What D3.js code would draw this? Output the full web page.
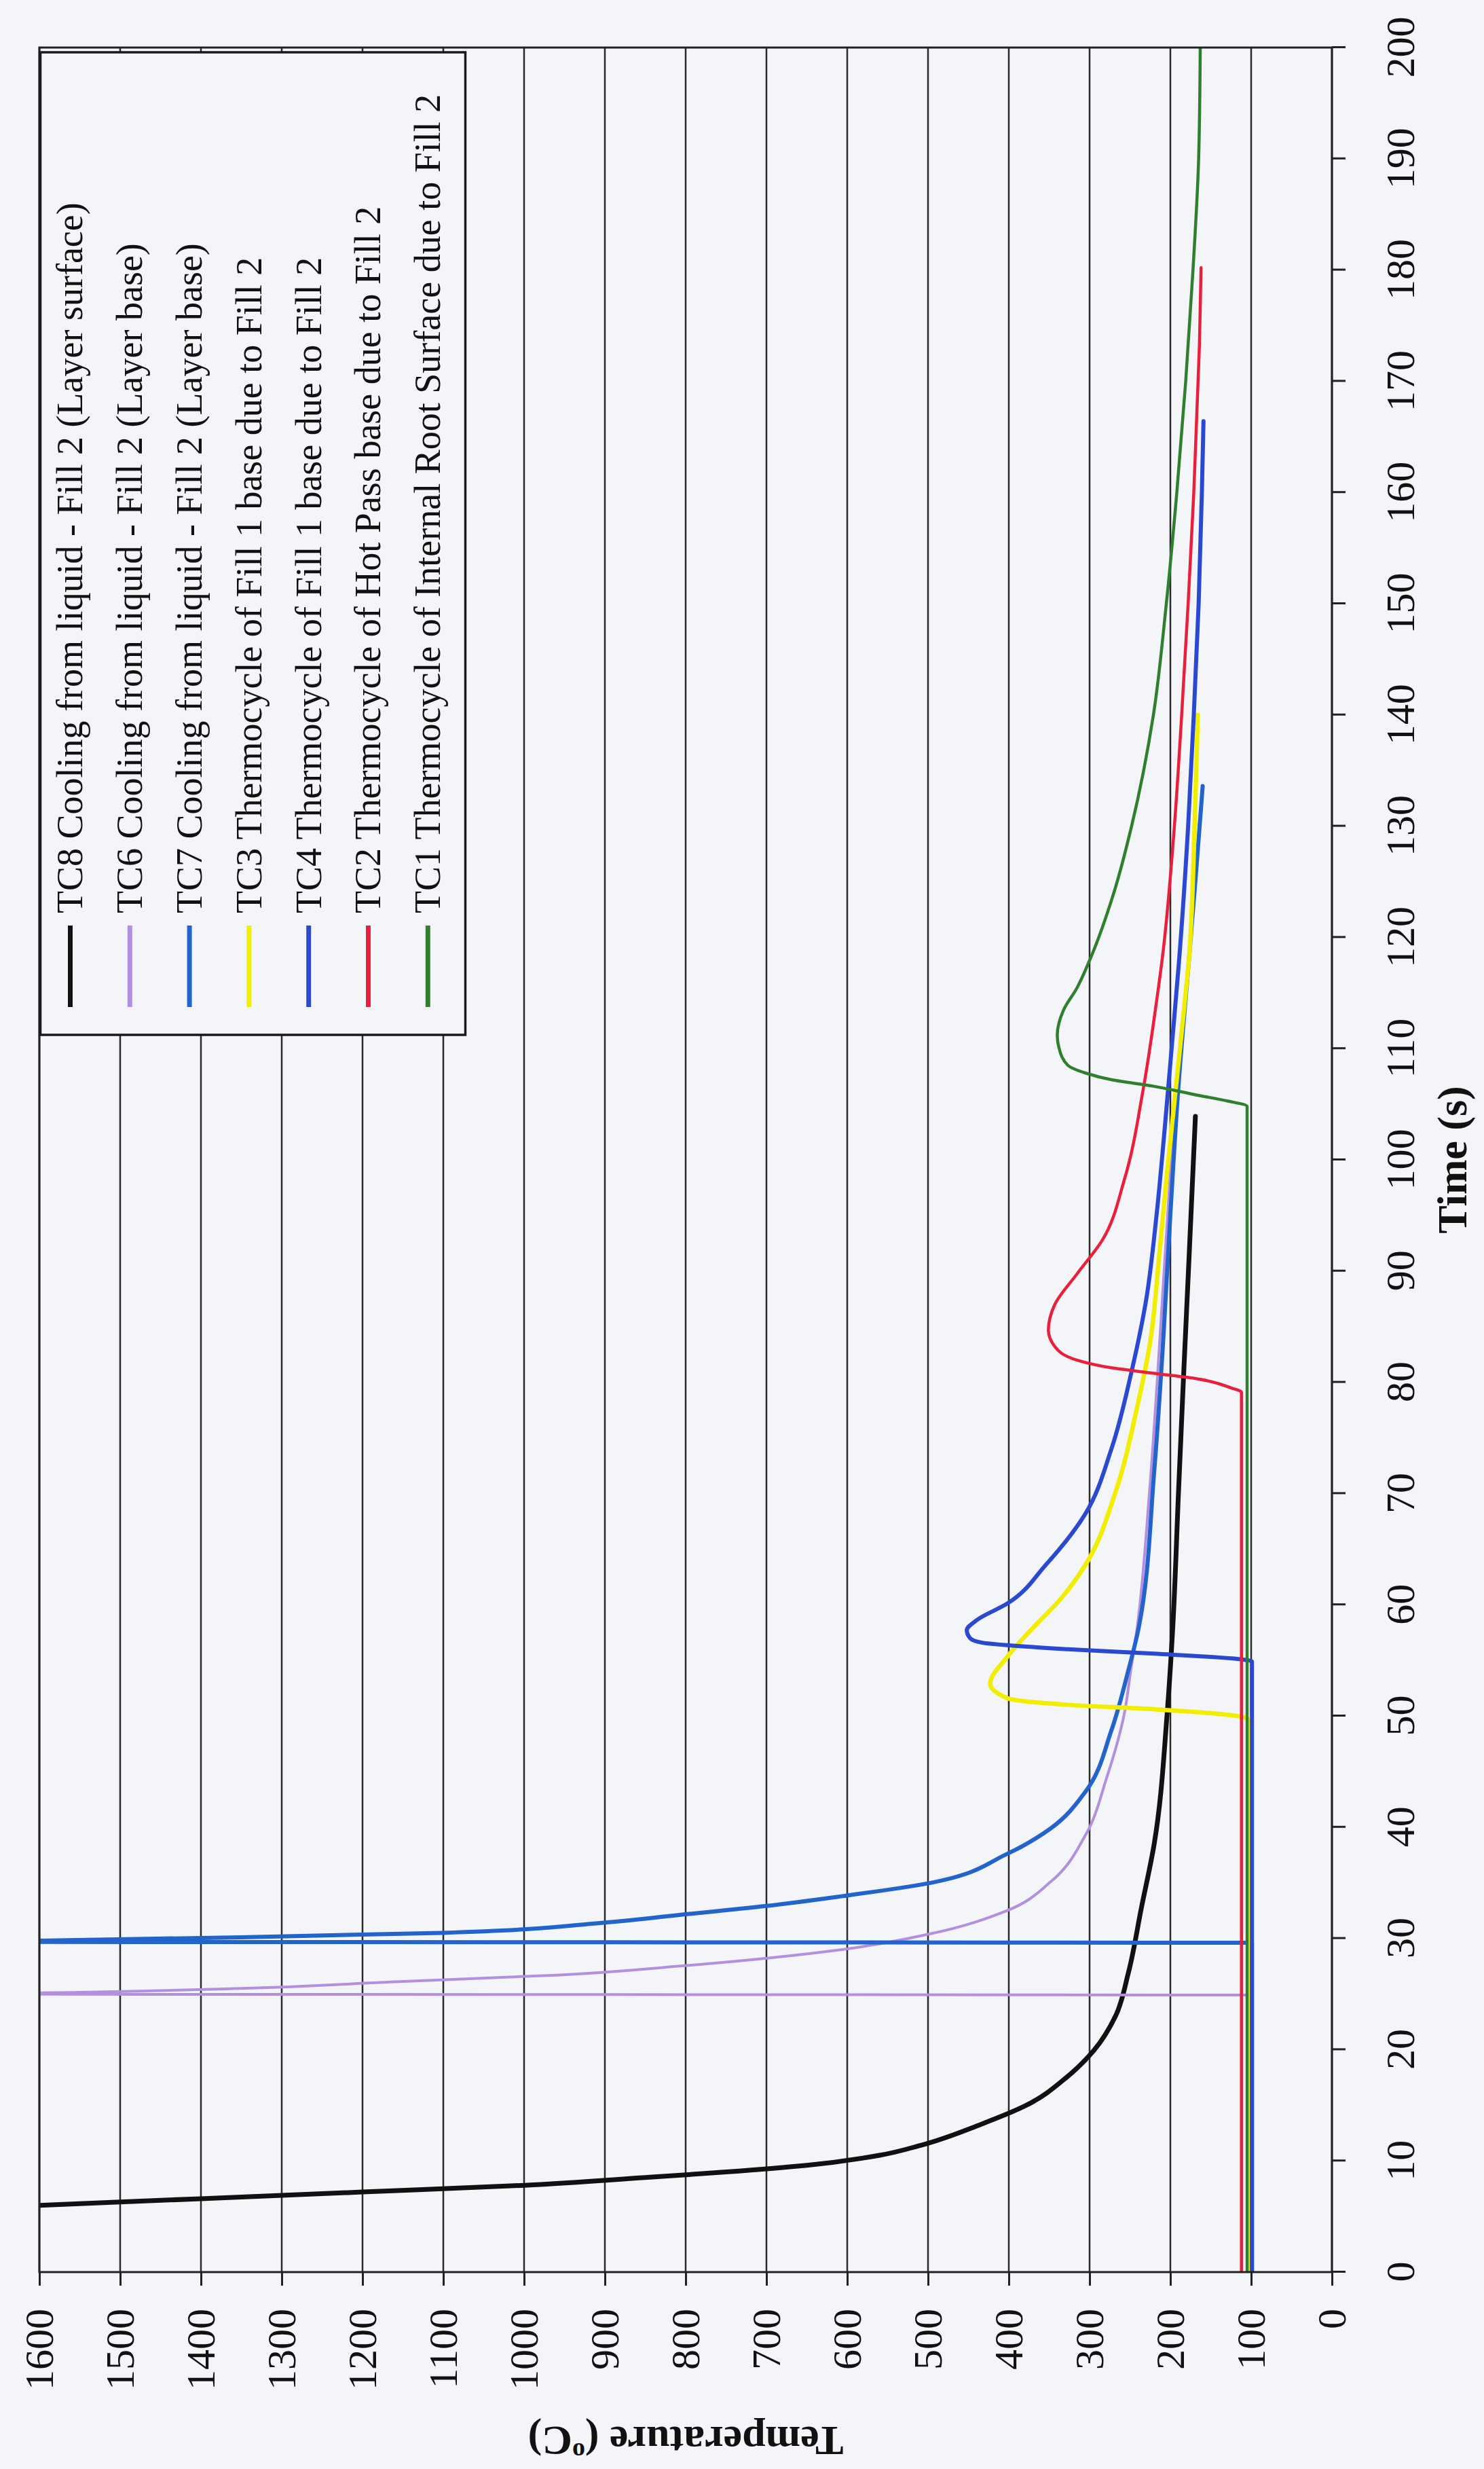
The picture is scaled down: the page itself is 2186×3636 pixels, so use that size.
<!DOCTYPE html>
<html>
<head>
<meta charset="utf-8">
<script src="https://cdn.jsdelivr.net/npm/d3@7"></script>
<style>
  html, body { margin: 0; padding: 0; background: #f3f5f8; }
  svg { display: block; }
  text { font-family: "Liberation Serif", "Times New Roman", serif; fill: #111; }
</style>
</head>
<body>
<svg id="chart" width="2186" height="3636"></svg>
<script>
// Tick values
const timeTicks = [0, 10, 20, 30, 40, 50, 60, 70, 80, 90, 100, 110, 120, 130, 140, 150, 160, 170, 180, 190, 200];
const tempTicks = [0, 100, 200, 300, 400, 500, 600, 700, 800, 900, 1000, 1100, 1200, 1300, 1400, 1500, 1600];

// Series: [time (s), temperature (°C)]
const tc8 = [[5.85,1650],[6.0,1600],[6.6,1400],[7.2,1200],[7.8,1000],[8.5,850],[9.0,750],[9.6,650],[10.5,560],
  [11.4,509],[13.3,434],[14.9,381],[17.6,327],[19.9,295],[23.0,268],[26.9,252],[32.7,236],[38.5,220],
  [50.2,204],[58,197],[70,190],[80,184],[91,177],[103.9,169]];
const tc6 = [[0,100],[24.9,100],[25.0,1700],[25.1,1600],[25.5,1350],[26.1,1160],[26.7,960],[27.5,809],
  [29.0,606],[30.4,498],[32.5,402],[35.1,348],[39.3,305],[44.4,279],[50.2,257],[54.1,249],[58,241],
  [70,226],[85,212],[100,199],[112,186]];
const tc7 = [[0,99],[29.6,99],[29.7,1700],[29.8,1600],[30.1,1350],[30.5,1101],[31.4,904],[32.1,809],
  [32.9,702],[33.8,606],[34.9,504],[37.6,402],[39.9,348],[43.2,305],[48.7,273],[54.1,252],[58,239],
  [72,220],[83.6,209],[95.1,200],[106.6,190],[118,177],[126,168],[133.6,160]];
const tc3 = [[0,104],[49.7,104],[50.0,118],[50.6,220],[51.0,327],[51.6,402],[52.9,423],[55.3,402],
  [58,369],[60.5,336],[63.6,305],[70.1,268],[77.8,241],[83.6,225],[91.2,214],[98.9,204],[106.6,193],
  [114.3,182],[118.1,177],[130,170],[140,166]];
const tc4 = [[0,99],[54.9,99],[55.1,113],[55.6,220],[56.0,327],[56.6,434],[57.0,448],[57.7,452],
  [58.6,440],[60.1,402],[63.6,354],[68.2,305],[74.0,273],[81.3,247],[87.4,230],[95.1,217],[102.8,207],
  [110.4,198],[118.1,189],[130,178],[140,171],[150,165],[160,161],[166.4,159]];
const tc2 = [[0,112],[79.1,112],[79.5,125],[80.3,166],[80.8,220],[81.3,273],[82.0,316],[83.2,343],
  [84.7,351],[87.0,343],[89.7,316],[92.8,284],[98.2,257],[106.6,233],[114.3,217],[118.1,210],[130,195],
  [140,186],[150,178],[160,171],[167.6,167],[173.3,164],[180.2,162]];
const tc1 = [[0,105],[104.8,105],[105.3,130],[105.8,166],[106.6,220],[107.2,273],[107.8,305],[108.5,327],
  [110.1,338],[111.2,340],[113.5,332],[115.4,316],[118.1,299],[124,270],[130,248],[140,221],[150,205],
  [160,192],[170,181],[180,172],[190,165],[200,163]];

const seriesNames = [
  "TC8 Cooling from liquid - Fill 2 (Layer surface)",
  "TC6 Cooling from liquid - Fill 2 (Layer base)",
  "TC7 Cooling from liquid - Fill 2 (Layer base)",
  "TC3 Thermocycle of Fill 1 base due to Fill 2",
  "TC4 Thermocycle of Fill 1 base due to Fill 2",
  "TC2 Thermocycle of Hot Pass base due to Fill 2",
  "TC1 Thermocycle of Internal Root Surface due to Fill 2"
];
const seriesData = [tc8, tc6, tc7, tc3, tc4, tc2, tc1];
const seriesColors = ["#111111", "#b38fe0", "#2263cc", "#f2ee00", "#2a48d0", "#e8203c", "#2f7f2f"];
const seriesWidths = [7, 4, 6, 6.5, 6, 4.5, 4.5];

// The figure is laid out on its side: the plot is built in its own frame
// (time across, temperature up) and the whole group is turned a quarter turn.
const W = 3276, H = 1904;
const svg = d3.select("#chart");
const g = svg.append("g").attr("transform", "translate(58,3346) rotate(-90)");

const x = d3.scaleLinear().domain([0, 200]).range([0, W]);
const y = d3.scaleLinear().domain([0, 1600]).range([H, 0]);

// Horizontal grid at every 100 °C
g.append("g").selectAll("line").data(tempTicks).join("line")
  .attr("x1", 0).attr("x2", W)
  .attr("y1", d => y(d)).attr("y2", d => y(d))
  .attr("stroke", "#2a2a2a").attr("stroke-width", 2.5);

// Axes
const fmt = d3.format("d");
const gx = g.append("g").attr("transform", `translate(0,${H})`)
  .call(d3.axisBottom(x).tickValues(timeTicks).tickFormat(fmt).tickSize(20).tickPadding(58));
const gy = g.append("g")
  .call(d3.axisLeft(y).tickValues(tempTicks).tickFormat(fmt).tickSize(20).tickPadding(34));
[gx, gy].forEach(a => {
  a.select(".domain").remove();
  a.selectAll(".tick line").attr("stroke", "#222").attr("stroke-width", 3);
  a.selectAll(".tick text").attr("font-size", 60).attr("fill", "#111")
    .attr("font-family", "Liberation Serif, Times New Roman, serif");
});

// Curves
g.append("clipPath").attr("id", "plotClip")
  .append("rect").attr("x", 0).attr("y", 0).attr("width", W).attr("height", H);

const line = d3.line()
  .x(d => x(d[0])).y(d => y(d[1]))
  .curve(d3.curveMonotoneX);

g.append("g").attr("clip-path", "url(#plotClip)")
  .selectAll("path").data(seriesData).join("path")
  .attr("d", line)
  .attr("fill", "none")
  .attr("stroke", (d, i) => seriesColors[i])
  .attr("stroke-width", (d, i) => seriesWidths[i])
  .attr("stroke-linejoin", "round")
  .attr("stroke-linecap", "round");

// Plot frame
g.append("rect").attr("x", 0).attr("y", 0).attr("width", W).attr("height", H)
  .attr("fill", "none").attr("stroke", "#222").attr("stroke-width", 3);

// Legend box in the upper right of the plot
const legX = 1822, legW = W - 7 - 1822, legH = 626;
const leg = g.append("g").attr("transform", `translate(${legX},1.5)`);
leg.append("rect").attr("width", legW).attr("height", legH)
  .attr("fill", "#f3f5f8").attr("stroke", "#1a1a1a").attr("stroke-width", 3.5);
const rows = leg.selectAll("g.row").data(seriesNames).join("g")
  .attr("class", "row")
  .attr("transform", (d, i) => `translate(0,${44 + i * 87.8})`);
rows.append("line")
  .attr("x1", 41).attr("x2", 161).attr("y1", 0).attr("y2", 0)
  .attr("stroke", (d, i) => seriesColors[i]).attr("stroke-width", 7);
rows.append("text")
  .attr("x", 179).attr("dy", "0.33em")
  .attr("font-size", 54)
  .text(d => d);

// Axis titles
g.append("text")
  .attr("x", W / 2).attr("y", H + 198)
  .attr("text-anchor", "middle")
  .attr("font-size", 62).attr("font-weight", "bold")
  .text("Time (s)");

const yTitle = g.append("text")
  .attr("transform", `translate(-228,${H / 2}) rotate(-90)`)
  .attr("text-anchor", "middle")
  .attr("font-size", 62).attr("font-weight", "bold");
yTitle.append("tspan").text("Temperature (");
yTitle.append("tspan").attr("font-size", 38).attr("dy", -24).text("o");
yTitle.append("tspan").attr("dy", 24).text("C)");
</script>
</body>
</html>
